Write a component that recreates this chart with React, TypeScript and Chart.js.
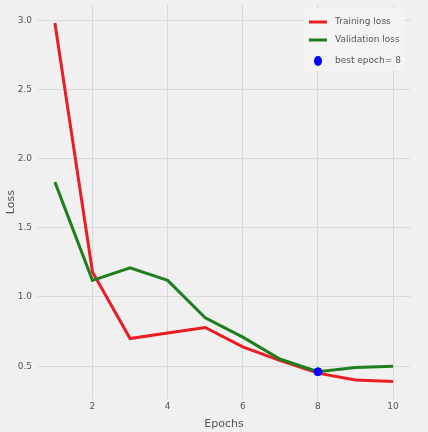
import React, { useEffect, useRef } from "react";
import { Chart, registerables } from "chart.js";

Chart.register(...registerables);

const epochs = [1, 2, 3, 4, 5, 6, 7, 8, 9, 10];
const trainingLoss = [2.98, 1.18, 0.70, 0.74, 0.78, 0.64, 0.54, 0.45, 0.40, 0.39];
const validationLoss = [1.83, 1.12, 1.21, 1.12, 0.85, 0.71, 0.55, 0.46, 0.49, 0.50];
const bestEpoch = 8;
const bestValue = 0.46;
const xTicks = [2, 4, 6, 8, 10];
const yTicks = [0.5, 1.0, 1.5, 2.0, 2.5, 3.0];
const legendLabels = ["Training loss", "Validation loss", "best epoch= " + bestEpoch];

const RED = "#ec1c24";
const GREEN = "#1f7f1f";
const BLUE = "#0000ff";
const TEXT = "#555555";
const FONT = "'DejaVu Sans', sans-serif";

const legendPlugin = {
  id: "insideLegend",
  afterDraw(chart: any) {
    const ctx = chart.ctx;
    const area = chart.chartArea;
    const boxW = 101;
    const boxH = 63;
    const bx = area.right - boxW - 5;
    const by = area.top + 3;
    ctx.save();
    ctx.fillStyle = "rgba(244,244,244,0.85)";
    ctx.fillRect(bx, by, boxW, boxH);
    const rows = [by + 14, by + 32, by + 53];
    const colors = [RED, GREEN, BLUE];
    ctx.font = "9px " + FONT;
    ctx.textBaseline = "middle";
    ctx.textAlign = "left";
    for (let i = 0; i < 3; i++) {
      const y = rows[i];
      if (i < 2) {
        ctx.strokeStyle = colors[i];
        ctx.lineWidth = 3;
        ctx.beginPath();
        ctx.moveTo(bx + 5, y);
        ctx.lineTo(bx + 23, y);
        ctx.stroke();
      } else {
        ctx.fillStyle = colors[i];
        ctx.beginPath();
        ctx.ellipse(bx + 14, y, 4, 5, 0, 0, Math.PI * 2);
        ctx.fill();
      }
      ctx.fillStyle = TEXT;
      ctx.fillText(legendLabels[i], bx + 31, y);
    }
    ctx.restore();
  },
};

export default function App() {
  const ref = useRef<HTMLCanvasElement | null>(null);
  useEffect(() => {
    if (!ref.current) return;
    const chart = new Chart(ref.current, {
      type: "line",
      data: {
        datasets: [
          {
            type: "scatter",
            label: legendLabels[2],
            data: [{ x: bestEpoch, y: bestValue }],
            backgroundColor: BLUE,
            borderColor: BLUE,
            pointRadius: 4,
            order: 0,
          } as any,
          {
            label: legendLabels[1],
            data: epochs.map((e, i) => ({ x: e, y: validationLoss[i] })),
            borderColor: GREEN,
            borderWidth: 3,
            pointRadius: 0,
            tension: 0,
            order: 1,
          },
          {
            label: legendLabels[0],
            data: epochs.map((e, i) => ({ x: e, y: trainingLoss[i] })),
            borderColor: RED,
            borderWidth: 3,
            pointRadius: 0,
            tension: 0,
            order: 2,
          },
        ],
      },
      options: {
        animation: false,
        responsive: true,
        maintainAspectRatio: false,
        layout: { padding: { top: 0.5, right: 18, left: 0, bottom: 0 } },
        plugins: {
          legend: { display: false },
          tooltip: { enabled: false },
        },
        scales: {
          x: {
            type: "linear",
            min: 0.55,
            max: 10.45,
            afterBuildTicks: (s: any) => {
              s.ticks = xTicks.map((v) => ({ value: v }));
            },
            afterFit: (s: any) => {
              s.height = 32.6;
              s.paddingLeft = 0;
              s.paddingRight = 0;
            },
            grid: { color: "#d9d9d9", lineWidth: 1, drawTicks: false },
            border: { display: false },
            ticks: {
              color: TEXT,
              font: { family: FONT, size: 9 },
              padding: 2,
              maxRotation: 0,
            },
            title: {
              display: true,
              text: "Epochs",
              color: TEXT,
              font: { family: FONT, size: 11 },
              padding: { top: 0, bottom: 1 },
            },
          },
          y: {
            type: "linear",
            min: 0.26,
            max: 3.11,
            afterBuildTicks: (s: any) => {
              s.ticks = yTicks.map((v) => ({ value: v }));
            },
            afterFit: (s: any) => {
              s.width = 38;
              s.paddingTop = 0;
              s.paddingBottom = 0;
            },
            grid: { color: "#d9d9d9", lineWidth: 1, drawTicks: false },
            border: { display: false },
            ticks: {
              color: TEXT,
              font: { family: FONT, size: 9 },
              padding: 6,
              callback: (v: any) => Number(v).toFixed(1),
            },
            title: {
              display: true,
              text: "Loss",
              color: TEXT,
              font: { family: FONT, size: 11 },
              padding: { top: 5, bottom: 0 },
            },
          },
        },
      },
      plugins: [legendPlugin],
    });
    return () => chart.destroy();
  }, []);
  return (
    <div
      style={{
        position: "absolute",
        left: 0,
        top: 0,
        width: 428,
        height: 432,
        background: "#f0f0f0",
      }}
    >
      <canvas ref={ref} />
    </div>
  );
}
